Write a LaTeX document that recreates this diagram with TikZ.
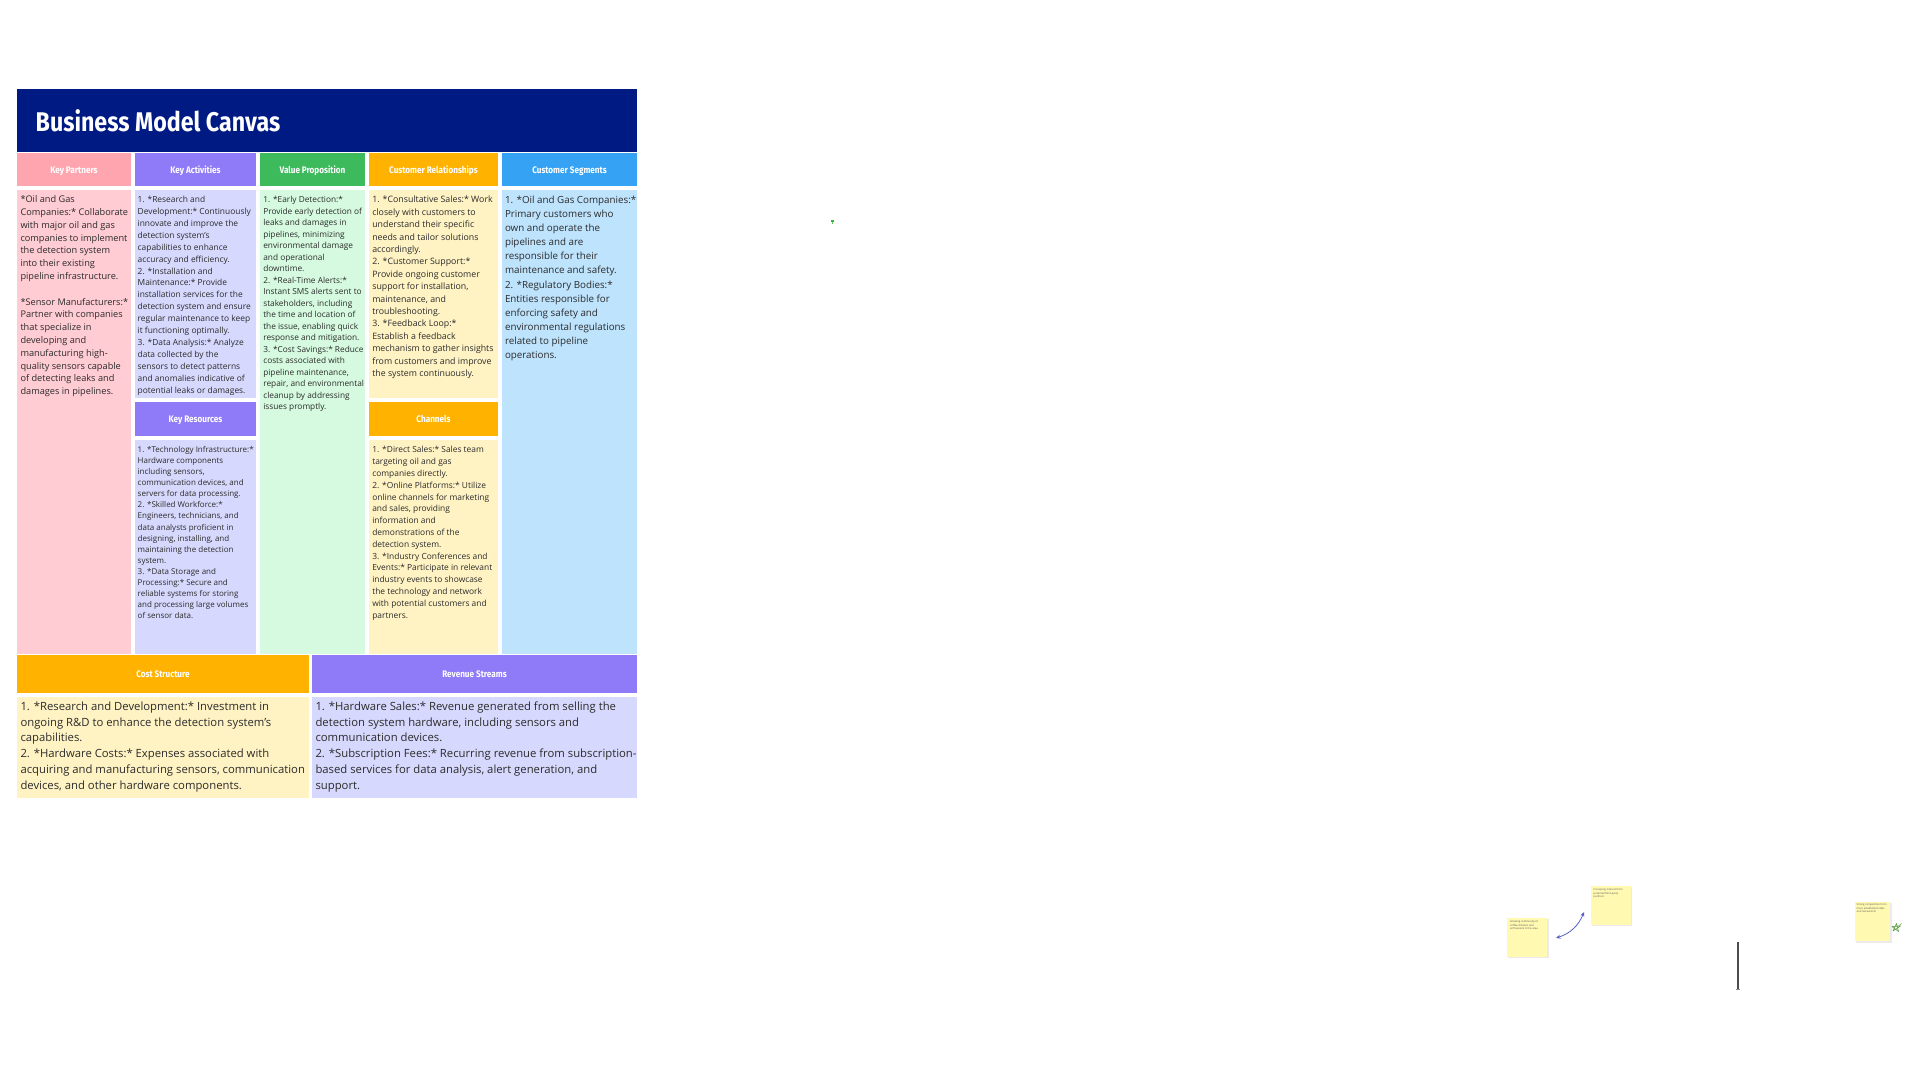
\documentclass[tikz,border=0pt]{standalone}
\usepackage{fontspec}
\usetikzlibrary{arrows.meta}
\setmainfont{Open Sans}
\newfontfamily\headfont[FakeStretch=0.86]{Fira Sans}
\definecolor{navy}{HTML}{001A84}
\definecolor{kph}{HTML}{FFA5AF}
\definecolor{kpb}{HTML}{FFCCD3}
\definecolor{purh}{HTML}{8F7AF8}
\definecolor{purb}{HTML}{D7D8FD}
\definecolor{grh}{HTML}{3DBA5C}
\definecolor{grb}{HTML}{D5FADF}
\definecolor{orh}{HTML}{FFB300}
\definecolor{orb}{HTML}{FFF3C4}
\definecolor{blh}{HTML}{36A2F3}
\definecolor{blb}{HTML}{BEE3FD}
\definecolor{txt}{HTML}{2B2B2B}
\definecolor{sticky}{HTML}{FFF9B1}
\definecolor{arrowc}{HTML}{5560C8}
\definecolor{pen}{HTML}{5E9E45}
\tikzset{
  cell/.style={anchor=north west, inner sep=0, outer sep=0, draw=none},
  hdr/.style={cell, text=white, font=\headfont\bfseries\fontsize{9.5}{11}\selectfont, text height=9pt, text depth=1.6pt},
  body/.style={anchor=north west, inner sep=0, outer sep=0, align=left, text=txt},
  note/.style={cell, fill=sticky, minimum width=40, minimum height=39},
  notetext/.style={anchor=north west, inner sep=0, align=left, text=txt!80, font=\fontsize{2.6}{3.6}\selectfont},
  linkarrow/.style={arrowc, line width=0.8pt, >={Stealth[length=4.5pt,width=4pt]}, <->},
}
\begin{document}
\begin{tikzpicture}[x=1pt,y=-1pt]
\useasboundingbox[fill=white] (0,0) rectangle (1920,1080);

% title bar
\node[cell, fill=navy, minimum width=620, minimum height=63] (bar) at (17,89) {};
\node[anchor=west, inner sep=0, text=white, font=\headfont\bfseries\fontsize{27}{30}\selectfont] (title) at (35.5,121) {Business Model Canvas};

% headers
\node[hdr, fill=kph,  minimum width=114, minimum height=33] (kph)  at (17,153)  {Key Partners};
\node[hdr, fill=purh, minimum width=121, minimum height=33] (kah)  at (135,153) {Key Activities};
\node[hdr, fill=grh,  minimum width=105, minimum height=33] (vph)  at (260,153) {Value Proposition};
\node[hdr, fill=orh,  minimum width=129, minimum height=33] (crh)  at (369,153) {Customer Relationships};
\node[hdr, fill=blh,  minimum width=135, minimum height=33] (csh)  at (502,153) {Customer Segments};
\node[hdr, fill=purh, minimum width=121, minimum height=34] (krh)  at (135,402) {Key Resources};
\node[hdr, fill=orh,  minimum width=129, minimum height=34] (chh)  at (369,402) {Channels};
\node[hdr, fill=orh,  minimum width=292, minimum height=38] (costh) at (17,655)  {Cost Structure};
\node[hdr, fill=purh, minimum width=325, minimum height=38] (revh)  at (312,655) {Revenue Streams};

% bodies
\node[cell, fill=kpb,  minimum width=114, minimum height=464] (kpb)  at (17,190)  {};
\node[cell, fill=purb, minimum width=121, minimum height=208] (kab)  at (135,190) {};
\node[cell, fill=purb, minimum width=121, minimum height=214] (krb)  at (135,440) {};
\node[cell, fill=grb,  minimum width=105, minimum height=464] (vpb)  at (260,190) {};
\node[cell, fill=orb,  minimum width=129, minimum height=208] (crb)  at (369,190) {};
\node[cell, fill=orb,  minimum width=129, minimum height=214] (chb)  at (369,440) {};
\node[cell, fill=blb,  minimum width=135, minimum height=464] (csb)  at (502,190) {};
\node[cell, fill=orb,  minimum width=292, minimum height=101] (costb) at (17,697)  {};
\node[cell, fill=purb, minimum width=325, minimum height=101] (revb)  at (312,697) {};

% body texts
\node[body, font=\fontsize{9.2}{12.8}\selectfont] (kpt) at (20.5,195.8) {*Oil and Gas\\Companies:* Collaborate\\with major oil and gas\\companies to implement\\the detection system\\into their existing\\pipeline infrastructure.\\[12.8pt]*Sensor Manufacturers:*\\Partner with companies\\that specialize in\\developing and\\manufacturing high-\\quality sensors capable\\of detecting leaks and\\damages in pipelines.};

\node[body, font=\fontsize{8.4}{11.9}\selectfont] (kat) at (137.7,196.3) {1. *Research and\\Development:* Continuously\\innovate and improve the\\detection system's\\capabilities to enhance\\accuracy and efficiency.\\2. *Installation and\\Maintenance:* Provide\\installation services for the\\detection system and ensure\\regular maintenance to keep\\it functioning optimally.\\3. *Data Analysis:* Analyze\\data collected by the\\sensors to detect patterns\\and anomalies indicative of\\potential leaks or damages.};

\node[body, font=\fontsize{8.0}{11.1}\selectfont] (krt) at (137.7,446.2) {1. *Technology Infrastructure:*\\Hardware components\\including sensors,\\communication devices, and\\servers for data processing.\\2. *Skilled Workforce:*\\Engineers, technicians, and\\data analysts proficient in\\designing, installing, and\\maintaining the detection\\system.\\3. *Data Storage and\\Processing:* Secure and\\reliable systems for storing\\and processing large volumes\\of sensor data.};

\node[body, font=\fontsize{8.3}{11.5}\selectfont] (vpt) at (263.3,196.2) {1. *Early Detection:*\\Provide early detection of\\leaks and damages in\\pipelines, minimizing\\environmental damage\\and operational\\downtime.\\2. *Real-Time Alerts:*\\Instant SMS alerts sent to\\stakeholders, including\\the time and location of\\the issue, enabling quick\\response and mitigation.\\3. *Cost Savings:* Reduce\\costs associated with\\pipeline maintenance,\\repair, and environmental\\cleanup by addressing\\issues promptly.};

\node[body, font=\fontsize{8.8}{12.4}\selectfont] (crt) at (372.3,196.2) {1. *Consultative Sales:* Work\\closely with customers to\\understand their specific\\needs and tailor solutions\\accordingly.\\2. *Customer Support:*\\Provide ongoing customer\\support for installation,\\maintenance, and\\troubleshooting.\\3. *Feedback Loop:*\\Establish a feedback\\mechanism to gather insights\\from customers and improve\\the system continuously.};

\node[body, font=\fontsize{8.4}{11.8}\selectfont] (cht) at (372.3,446.5) {1. *Direct Sales:* Sales team\\targeting oil and gas\\companies directly.\\2. *Online Platforms:* Utilize\\online channels for marketing\\and sales, providing\\information and\\demonstrations of the\\detection system.\\3. *Industry Conferences and\\Events:* Participate in relevant\\industry events to showcase\\the technology and network\\with potential customers and\\partners.};

\node[body, font=\fontsize{9.8}{14.1}\selectfont] (cst) at (505,196) {1. *Oil and Gas Companies:*\\Primary customers who\\own and operate the\\pipelines and are\\responsible for their\\maintenance and safety.\\2. *Regulatory Bodies:*\\Entities responsible for\\enforcing safety and\\environmental regulations\\related to pipeline\\operations.};

\node[body, font=\fontsize{11.3}{15.9}\selectfont] (costt) at (20.5,701.5) {1. *Research and Development:* Investment in\\ongoing R\&D to enhance the detection system's\\capabilities.\\2. *Hardware Costs:* Expenses associated with\\acquiring and manufacturing sensors, communication\\devices, and other hardware components.};

\node[body, font=\fontsize{11.3}{15.9}\selectfont] (revt) at (315.5,701.5) {1. *Hardware Sales:* Revenue generated from selling the\\detection system hardware, including sensors and\\communication devices.\\2. *Subscription Fees:* Recurring revenue from subscription-\\based services for data analysis, alert generation, and\\support.};

% stray mark
\fill[green!65!black!80] (831,219.5) rectangle (834,221.5);
\fill[green!60!black!60] (831.5,221.5) rectangle (833,223.5);

% sticky notes
\fill[black!8] (1508,919) rectangle (1548.5,957.5);
\node[note] (n1) at (1507,918) {};
\node[notetext] (n1t) at (1510,920.5) {Growing community of\\coffee drinkers and\\enthusiasts in the area};
\fill[black!8] (1592,887) rectangle (1631.5,925.5);
\node[note] (n2) at (1591,886) {};
\node[notetext] (n2t) at (1593.5,888.5) {Increasing interest from\\potential third-party\\partners};
\fill[black!8] (1856,903) rectangle (1891.5,942.5);
\node[note, minimum width=35] (n3) at (1855,902) {};
\node[notetext] (n3t) at (1856.5,903.5) {Strong competition from\\more established cafes\\and restaurants};

% curved double arrow between notes
\coordinate (a1) at (1556,938);
\coordinate (a2) at (1584,912);
\draw[linkarrow] (a1) to[bend right=25] (a2);

% green pen star on note 3
\draw[pen, line width=0.6pt, line join=round] (1893,931) -- (1896.5,923.5) -- (1898.5,931.5) -- (1892,926.5) -- (1900.5,926) -- cycle;
\draw[pen, line width=0.5pt] (1898.5,926) -- (1901.5,923.5);

% vertical line
\coordinate (v1) at (1738,942);
\coordinate (v2) at (1738,989);
\draw[black!70, line width=1.3pt] (v1) -- (v2);
\coordinate (c1) at (1736,989);
\coordinate (c2) at (1740,989);
\draw[black!45, line width=1pt] (c1) -- (c2);
\end{tikzpicture}
\end{document}
